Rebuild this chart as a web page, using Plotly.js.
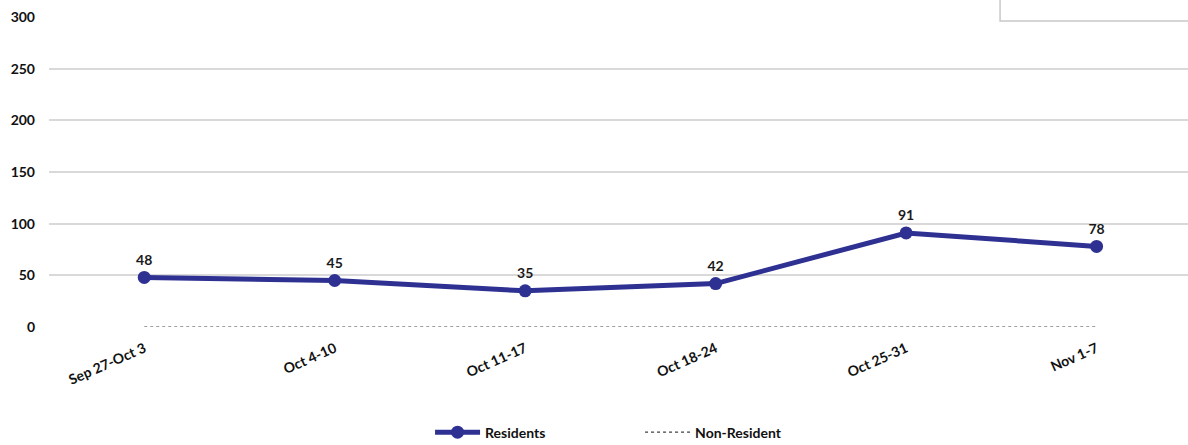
<!DOCTYPE html>
<html><head><meta charset="utf-8">
<script src="https://cdn.plot.ly/plotly-3.0.1.min.js"></script>
<style>html,body{margin:0;padding:0;background:#fff;overflow:hidden}</style>
</head><body><div id="chart" style="width:1188px;height:445px"></div>
<script>
const weeks = ["Sep 27-Oct 3","Oct 4-10","Oct 11-17","Oct 18-24","Oct 25-31","Nov 1-7"];
const residents = [48,45,35,42,91,78];
const nonResident = [0,0,0,0,0,0];
const yTicks = [0,50,100,150,200,250,300];

const font = "Lato, 'Open Sans', 'Liberation Sans', sans-serif";
const traces = [
  {x: weeks, y: residents, name: "Residents", type: "scatter", mode: "lines+markers+text",
   line: {color: "#2E3192", width: 5}, marker: {color: "#2E3192", size: 13},
   text: residents.map(String), textposition: "top center",
   textfont: {family: font, size: 14, color: "#1a1a1a", weight: "bold"}, cliponaxis: false},
  {x: weeks, y: nonResident, name: "Non-Resident", type: "scatter", mode: "lines",
   line: {color: "#404040", width: 1.2, dash: "dot"}}
];
const layout = {
  width: 1188, height: 445,
  margin: {l: 49, r: 0, t: 17, b: 118, autoexpand: false},
  paper_bgcolor: "#fff", plot_bgcolor: "#fff",
  font: {family: font, size: 14, color: "#111", weight: "bold"},
  xaxis: {type: "category", range: [-0.5, 5.48], showgrid: false, zeroline: false, showline: false,
          automargin: false, ticks: "", tickangle: -24, ticklabelstandoff: 10,
          tickfont: {family: font, size: 14, weight: "bold"}},
  yaxis: {range: [0, 300], tickvals: yTicks, showgrid: true, gridcolor: "#d9d9d9", gridwidth: 1.5,
          automargin: false, zeroline: false, showline: false, ticks: "", ticklabelstandoff: 13,
          tickfont: {family: font, size: 14, weight: "bold"}},
  showlegend: true,
  legend: {orientation: "h", xref: "container", yref: "container", x: 0.362, xanchor: "left",
           y: 0.028, yanchor: "middle",
           font: {family: font, size: 14, weight: "bold"}, itemwidth: 45, tracegroupgap: 0,
           entrywidth: 150},
  shapes: [{type: "rect", xref: "paper", yref: "paper", x0: 0.835, x1: 1.01, y0: 0.987, y1: 1.2,
            line: {color: "#c8c8c8", width: 1.5}, fillcolor: "rgba(0,0,0,0)"}]
};
Plotly.newPlot("chart", traces, layout, {displayModeBar: false});
</script></body></html>
